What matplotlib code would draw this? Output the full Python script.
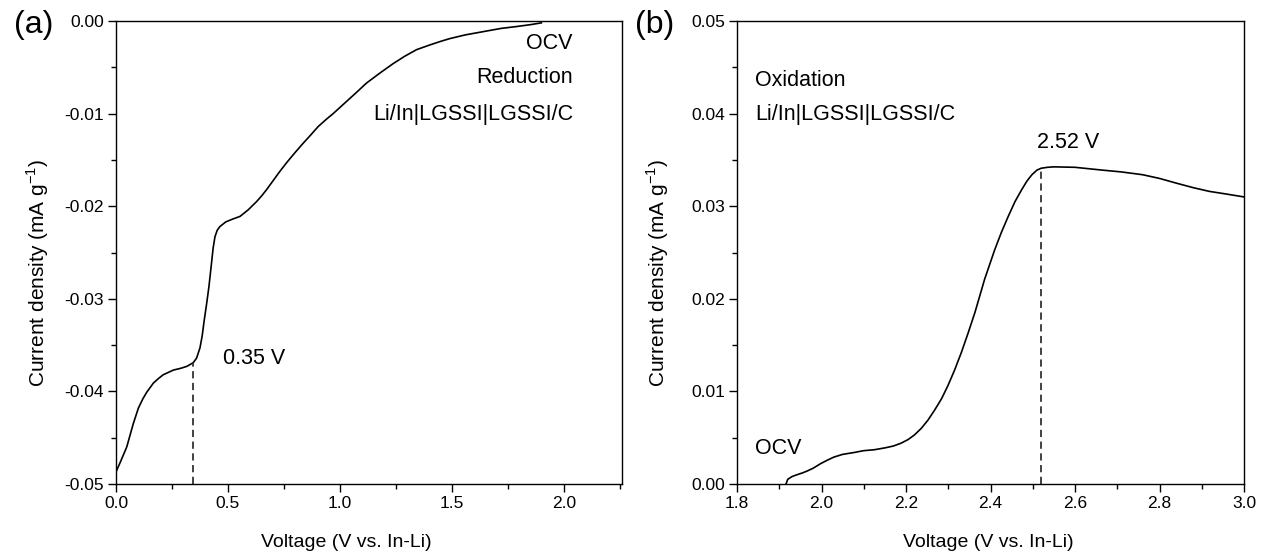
import matplotlib
matplotlib.use("Agg")
import matplotlib.pyplot as plt
from matplotlib.ticker import MultipleLocator, FuncFormatter

plt.rcParams['font.family'] = ['Liberation Sans', 'DejaVu Sans']
plt.rcParams['mathtext.fontset'] = 'custom'
plt.rcParams['mathtext.rm'] = 'Liberation Sans'

# (a) reduction sweep
red_v = [0.0, 0.02, 0.048, 0.077, 0.10, 0.12, 0.137, 0.167, 0.19, 0.211, 0.256,
         0.29, 0.316, 0.345, 0.36, 0.375, 0.385, 0.393, 0.405, 0.415, 0.425,
         0.434, 0.442, 0.452, 0.464, 0.49, 0.52, 0.554, 0.59, 0.628, 0.65, 0.673,
         0.70, 0.73, 0.762, 0.80, 0.836, 0.87, 0.903, 0.94, 0.97, 1.02, 1.07,
         1.119, 1.18, 1.238, 1.29, 1.342, 1.40, 1.45, 1.491, 1.56, 1.64, 1.72,
         1.788, 1.85, 1.90]
red_i = [-0.0487, -0.0476, -0.0460, -0.0435, -0.0418, -0.0408, -0.0401, -0.0391,
         -0.0386, -0.0382, -0.0377, -0.0375, -0.0373, -0.0369, -0.0364, -0.0353,
         -0.0340, -0.0325, -0.0305, -0.0287, -0.0265, -0.0245, -0.0233, -0.0226,
         -0.0222, -0.0217, -0.0214, -0.0211, -0.0204, -0.0195, -0.0189, -0.0182,
         -0.0173, -0.0163, -0.0153, -0.0142, -0.0132, -0.0123, -0.0114, -0.0106,
         -0.0100, -0.0089, -0.0078, -0.0067, -0.0056, -0.0046, -0.0038, -0.0031,
         -0.0026, -0.0022, -0.0019, -0.0015, -0.00115, -0.0008, -0.0006, -0.0004,
         -0.0002]
red_peak_v, red_peak_i = 0.345, -0.0369

# (b) oxidation sweep
ox_v = [1.916, 1.920, 1.93, 1.942, 1.955, 1.966, 1.98, 1.998, 2.015, 2.029, 2.05,
        2.077, 2.10, 2.125, 2.15, 2.17, 2.188, 2.205, 2.22, 2.236, 2.252, 2.268,
        2.284, 2.299, 2.315, 2.331, 2.347, 2.363, 2.386, 2.41, 2.426, 2.442,
        2.458, 2.474, 2.486, 2.498, 2.51, 2.52, 2.535, 2.55, 2.60, 2.664, 2.71,
        2.76, 2.80, 2.839, 2.88, 2.918, 2.96, 3.0]
ox_i = [0.0, 0.0005, 0.0008, 0.0010, 0.0012, 0.0014, 0.0017, 0.0022, 0.0026,
        0.0029, 0.0032, 0.0034, 0.0036, 0.0037, 0.0039, 0.0041, 0.0044, 0.0048,
        0.0053, 0.0060, 0.0069, 0.0080, 0.0092, 0.0106, 0.0123, 0.0142, 0.0163,
        0.0185, 0.0221, 0.0253, 0.0272, 0.0289, 0.0305, 0.0318, 0.0327, 0.0334,
        0.0339, 0.0341, 0.0342, 0.03425, 0.0342, 0.0339, 0.0337, 0.0334, 0.0330,
        0.0325, 0.0320, 0.0316, 0.0313, 0.0310]
ox_peak_v, ox_peak_i = 2.52, 0.0341

W, H = 1262, 556
fig = plt.figure(figsize=(W / 100, H / 100), dpi=100)
ax_a = fig.add_axes([116 / W, 1 - 484 / H, 506 / W, 463 / H])
ax_b = fig.add_axes([737 / W, 1 - 484 / H, 507 / W, 463 / H])

line_kw = dict(color='black', lw=1.2)
dash_kw = dict(color='#333333', lw=1.3, linestyle=(0, (4, 2.5)))
txt_fs = 15.5

fmt1 = FuncFormatter(lambda v, p: f"{v:.1f}")
fmt2 = FuncFormatter(lambda v, p: f"{0.0 if abs(v) < 1e-9 else v:.2f}")


def style(ax):
    for s in ax.spines.values():
        s.set_linewidth(1.0)
    ax.tick_params(which='major', direction='out', length=5.5, width=1.0,
                   labelsize=12.5, top=False, right=False, pad=3)
    ax.tick_params(which='minor', direction='out', length=3.5, width=1.0,
                   top=False, right=False)
    ax.xaxis.set_major_formatter(fmt1)
    ax.yaxis.set_major_formatter(fmt2)
    ax.yaxis.set_minor_locator(MultipleLocator(0.005))
    ax.yaxis.set_major_locator(MultipleLocator(0.01))
    ax.set_ylabel('Current density (mA g$^{\\mathregular{-1}}$)', fontsize=15)
    ax.set_xlabel('Voltage (V vs. In-Li)', fontsize=14)


# panel (a)
ax_a.plot(red_v, red_i, **line_kw)
ax_a.plot([red_peak_v, red_peak_v], [-0.05, red_peak_i], **dash_kw)
ax_a.set_xlim(0, 2.26)
ax_a.set_ylim(-0.05, 0.0)
ax_a.xaxis.set_major_locator(MultipleLocator(0.5))
ax_a.xaxis.set_minor_locator(MultipleLocator(0.25))
style(ax_a)
ax_a.yaxis.set_label_coords(-0.128, 0.456)
ax_a.xaxis.set_label_coords(0.455, -0.108)
for txt, yf in [('OCV', 0.952), ('Reduction', 0.879), ('Li/In|LGSSI|LGSSI/C', 0.797)]:
    ax_a.text(0.903, yf, txt, transform=ax_a.transAxes, ha='right', va='center',
              fontsize=txt_fs)
ax_a.text(0.478, -0.0365, '0.35 V', ha='left', va='center', fontsize=txt_fs)
fig.text(14 / W, 1 - 25 / H, '(a)', fontsize=23, ha='left', va='center')

# panel (b)
ax_b.plot(ox_v, ox_i, **line_kw)
ax_b.plot([ox_peak_v, ox_peak_v], [0.0, ox_peak_i], **dash_kw)
ax_b.set_xlim(1.8, 3.0)
ax_b.set_ylim(0.0, 0.05)
ax_b.xaxis.set_major_locator(MultipleLocator(0.2))
ax_b.xaxis.set_minor_locator(MultipleLocator(0.1))
style(ax_b)
ax_b.yaxis.set_label_coords(-0.130, 0.456)
ax_b.xaxis.set_label_coords(0.495, -0.108)
ax_b.text(1.843, 0.0436, 'Oxidation', ha='left', va='center', fontsize=txt_fs)
ax_b.text(1.843, 0.0399, 'Li/In|LGSSI|LGSSI/C', ha='left', va='center', fontsize=txt_fs)
ax_b.text(2.51, 0.0369, '2.52 V', ha='left', va='center', fontsize=txt_fs)
ax_b.text(1.843, 0.0038, 'OCV', ha='left', va='center', fontsize=txt_fs)
fig.text(635 / W, 1 - 25 / H, '(b)', fontsize=23, ha='left', va='center')

fig.savefig('out.png', dpi=100)
